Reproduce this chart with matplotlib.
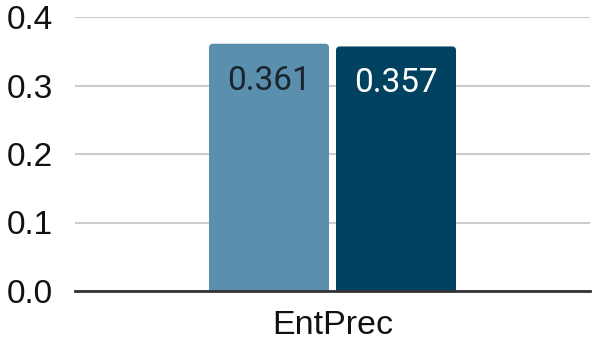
import matplotlib
matplotlib.use("Agg")
import matplotlib.pyplot as plt
from matplotlib.patches import FancyBboxPatch

categories = ["EntPrec"]
series_a = [0.361]
series_b = [0.357]
yticks = [0.0, 0.1, 0.2, 0.3, 0.4]
ytick_labels = ["0.0", "0.1", "0.2", "0.3", "0.4"]

plt.rcParams['font.family'] = ['Liberation Sans', 'DejaVu Sans']

fig = plt.figure(figsize=(5.93, 3.45), dpi=100)
ax = fig.add_axes([75/593, 54/345, 515/593, (291-17)/345])
ax.set_xlim(-0.5, 0.5)
ax.set_ylim(0, 0.4)

bw = 120/515
off = 127/2/515
colors = ["#5b8fae", "#00425f"]
txtcolors = ["#1b2530", "#ffffff"]
rs = 4/515
asp = (0.1/68.5)/(1/515)
for i, cat in enumerate(categories):
    for j, (vals, c, tc) in enumerate([(series_a, colors[0], txtcolors[0]), (series_b, colors[1], txtcolors[1])]):
        v = vals[i]
        x = i + (-off if j == 0 else off)
        ax.bar(x, v, width=bw, color=c, alpha=0)
        p = FancyBboxPatch((x - bw/2, -0.02), bw, v + 0.02,
                           boxstyle=f"round,pad=0,rounding_size={rs}",
                           mutation_aspect=asp, facecolor=c, edgecolor='none', zorder=3)
        ax.add_patch(p)
        ax.text(x, v - 0.054, f"{v:.3f}", ha='center', va='center', color=tc,
                fontsize=24, family=['Roboto', 'DejaVu Sans'], zorder=4)

ax.set_yticks(yticks)
ax.set_yticklabels(ytick_labels)
ax.set_xticks(range(len(categories)))
ax.set_xticklabels(categories)
ax.tick_params(axis='both', length=0, colors='#111111')
ax.tick_params(axis='y', pad=16, labelsize=24)
ax.tick_params(axis='x', pad=14, labelsize=24.5)
ax.grid(axis='y', color='#cccccc', linewidth=1.5, zorder=0)
ax.set_axisbelow(True)
for s in ['top', 'right', 'left']:
    ax.spines[s].set_visible(False)
ax.spines['bottom'].set_color('#333333')
ax.spines['bottom'].set_linewidth(2)
ax.spines['bottom'].set_zorder(5)

fig.savefig("out.png", dpi=100)
